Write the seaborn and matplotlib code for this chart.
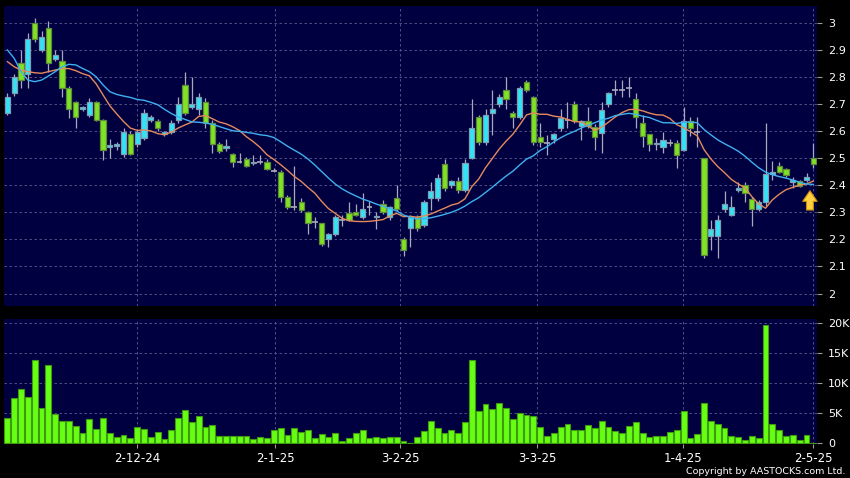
import numpy as np
import pandas as pd
import seaborn as sns
from matplotlib import pyplot as plt

# daily OHLC (one entry per trading day)
opens = [
    2.668, 2.739, 2.850, 2.810, 2.997, 2.899, 2.979, 2.867, 2.858, 2.758,
    2.708, 2.680, 2.659, 2.708, 2.640, 2.540, 2.545, 2.516, 2.589, 2.552,
    2.574, 2.640, 2.638, 2.588, 2.597, 2.640, 2.770, 2.687, 2.680, 2.708,
    2.628, 2.551, 2.538, 2.515, 2.484, 2.497, 2.482, 2.485, 2.487, 2.454,
    2.450, 2.358, 2.318, 2.339, 2.300, 2.263, 2.259, 2.200, 2.218, 2.272,
    2.296, 2.300, 2.281, 2.318, 2.281, 2.329, 2.284, 2.352, 2.200, 2.241,
    2.281, 2.253, 2.352, 2.352, 2.478, 2.401, 2.415, 2.382, 2.499, 2.650,
    2.558, 2.667, 2.698, 2.751, 2.667, 2.650, 2.780, 2.727, 2.579, 2.557,
    2.569, 2.610, 2.640, 2.698, 2.618, 2.638, 2.616, 2.593, 2.699, 2.751,
    2.751, 2.758, 2.717, 2.628, 2.588, 2.553, 2.542, 2.555, 2.557, 2.530,
    2.638, 2.598, 2.500, 2.212, 2.212, 2.311, 2.290, 2.382, 2.401, 2.349,
    2.311, 2.339, 2.441, 2.471, 2.458, 2.410, 2.415, 2.419, 2.500,
]
highs = [
    2.740, 2.810, 2.900, 2.960, 3.016, 2.970, 3.005, 2.899, 2.900, 2.765,
    2.712, 2.692, 2.722, 2.712, 2.645, 2.570, 2.560, 2.610, 2.600, 2.605,
    2.680, 2.660, 2.645, 2.600, 2.640, 2.727, 2.819, 2.798, 2.740, 2.720,
    2.640, 2.560, 2.572, 2.520, 2.518, 2.503, 2.511, 2.512, 2.495, 2.462,
    2.455, 2.362, 2.472, 2.352, 2.305, 2.284, 2.262, 2.225, 2.290, 2.290,
    2.339, 2.330, 2.370, 2.343, 2.300, 2.345, 2.325, 2.400, 2.210, 2.290,
    2.290, 2.345, 2.410, 2.440, 2.495, 2.420, 2.430, 2.495, 2.717, 2.660,
    2.680, 2.751, 2.735, 2.798, 2.675, 2.765, 2.790, 2.730, 2.628, 2.585,
    2.592, 2.680, 2.708, 2.710, 2.640, 2.690, 2.625, 2.708, 2.745, 2.788,
    2.790, 2.800, 2.739, 2.659, 2.579, 2.575, 2.597, 2.570, 2.565, 2.690,
    2.650, 2.653, 2.500, 2.271, 2.290, 2.380, 2.360, 2.413, 2.413, 2.355,
    2.345, 2.628, 2.490, 2.487, 2.465, 2.431, 2.420, 2.444, 2.555,
]
lows = [
    2.659, 2.730, 2.758, 2.758, 2.930, 2.890, 2.819, 2.858, 2.727, 2.647,
    2.611, 2.672, 2.652, 2.636, 2.493, 2.500, 2.530, 2.505, 2.510, 2.540,
    2.565, 2.632, 2.600, 2.580, 2.590, 2.630, 2.660, 2.680, 2.660, 2.610,
    2.520, 2.520, 2.525, 2.468, 2.481, 2.466, 2.475, 2.478, 2.455, 2.448,
    2.339, 2.312, 2.310, 2.300, 2.220, 2.241, 2.175, 2.172, 2.212, 2.250,
    2.266, 2.285, 2.275, 2.290, 2.240, 2.295, 2.270, 2.305, 2.140, 2.171,
    2.230, 2.245, 2.310, 2.340, 2.380, 2.390, 2.370, 2.375, 2.495, 2.550,
    2.550, 2.585, 2.690, 2.680, 2.610, 2.645, 2.745, 2.550, 2.542, 2.511,
    2.555, 2.600, 2.612, 2.630, 2.567, 2.612, 2.530, 2.518, 2.690, 2.733,
    2.727, 2.725, 2.610, 2.542, 2.527, 2.530, 2.518, 2.545, 2.463, 2.525,
    2.580, 2.542, 2.130, 2.160, 2.130, 2.300, 2.285, 2.375, 2.339, 2.250,
    2.305, 2.325, 2.419, 2.445, 2.430, 2.389, 2.395, 2.410, 2.462,
]
closes = [
    2.727, 2.798, 2.788, 2.938, 2.938, 2.948, 2.850, 2.879, 2.758, 2.680,
    2.651, 2.687, 2.708, 2.640, 2.530, 2.548, 2.552, 2.596, 2.516, 2.596,
    2.666, 2.650, 2.610, 2.597, 2.628, 2.698, 2.667, 2.698, 2.727, 2.628,
    2.551, 2.527, 2.545, 2.487, 2.486, 2.471, 2.486, 2.485, 2.459, 2.454,
    2.358, 2.318, 2.318, 2.308, 2.259, 2.263, 2.182, 2.218, 2.281, 2.272,
    2.272, 2.290, 2.311, 2.318, 2.287, 2.300, 2.318, 2.311, 2.161, 2.281,
    2.241, 2.339, 2.380, 2.428, 2.391, 2.415, 2.382, 2.481, 2.610, 2.558,
    2.659, 2.681, 2.727, 2.718, 2.650, 2.758, 2.751, 2.558, 2.558, 2.557,
    2.589, 2.649, 2.640, 2.638, 2.636, 2.618, 2.579, 2.678, 2.741, 2.751,
    2.751, 2.758, 2.650, 2.582, 2.552, 2.557, 2.567, 2.555, 2.511, 2.638,
    2.610, 2.598, 2.142, 2.240, 2.271, 2.329, 2.318, 2.388, 2.370, 2.311,
    2.339, 2.441, 2.450, 2.450, 2.437, 2.419, 2.398, 2.429, 2.478,
]
# volume in thousands of shares
volume_k = [
    4.2, 7.5, 9.0, 7.8, 13.9, 5.9, 13.1, 4.9, 3.8, 3.7,
    2.9, 1.7, 4.1, 2.4, 4.2, 1.7, 1.1, 1.4, 0.9, 2.7,
    2.4, 1.1, 1.9, 0.7, 2.3, 4.2, 5.6, 3.6, 4.6, 2.7,
    3.0, 1.3, 1.2, 1.2, 1.3, 1.3, 0.8, 1.1, 0.9, 2.2,
    2.5, 1.4, 2.5, 1.9, 2.2, 0.9, 1.6, 1.1, 1.8, 0.4,
    0.9, 1.8, 2.2, 0.9, 1.0, 0.9, 1.1, 1.1, 0.4, 0.15,
    1.0, 2.1, 3.7, 2.5, 1.8, 2.2, 1.8, 3.6, 13.9, 5.4,
    6.6, 5.8, 6.7, 5.9, 4.1, 5.0, 4.8, 4.6, 2.8, 1.2,
    1.7, 2.7, 3.3, 2.3, 2.3, 3.1, 2.6, 3.7, 2.7, 2.1,
    1.7, 2.9, 3.6, 1.7, 1.1, 1.2, 1.2, 1.9, 2.2, 5.4,
    0.9, 1.6, 6.7, 3.8, 3.3, 2.6, 1.3, 1.0, 0.6, 1.3,
    0.9, 19.7, 3.2, 2.2, 1.3, 1.4, 0.5, 1.4, 0.0,
]
# moving averages before enough days are on screen
ma10_head = [2.856, 2.837, 2.825, 2.819, 2.815, 2.813, 2.819, 2.825, 2.831]
ma20_head = [2.899, 2.868, 2.819, 2.788, 2.782, 2.788, 2.803, 2.819, 2.837, 2.846,
             2.844, 2.831, 2.819, 2.800, 2.770, 2.745, 2.735, 2.729, 2.724]

date_labels = ['2-12-24', '2-1-25', '3-2-25', '3-3-25', '1-4-25', '2-5-25']
date_pos = [19, 39.2, 57.5, 77.6, 98.9, 118]
price_ticks = [2.0, 2.1, 2.2, 2.3, 2.4, 2.5, 2.6, 2.7, 2.8, 2.9, 3.0]
vol_ticks = [0, 5, 10, 15, 20]

BG = '#000040'
GRID = '#5c5c8e'
GREEN, GREEN_EDGE = '#80e224', '#5f8a3a'
CYAN, CYAN_EDGE = '#33e3f5', '#7f9cb0'
WICK = '#a9a9bb'
VOL, VOL_EDGE = '#66ff14', '#3f9a10'

n = len(closes)
idx = np.arange(n)
df = pd.DataFrame({'idx': idx, 'open': opens, 'high': highs, 'low': lows,
                   'close': closes, 'volume': volume_k})

ma10 = df['close'].rolling(10).mean().to_numpy()
ma10[:len(ma10_head)] = ma10_head
ma20 = df['close'].rolling(20).mean().to_numpy()
ma20[:len(ma20_head)] = ma20_head

fig = plt.figure(figsize=(8.5, 4.78), dpi=100, facecolor='black')
ax = fig.add_axes([0.0047, 0.3598, 0.957, 0.628], facecolor=BG)
axv = fig.add_axes([0.0047, 0.0711, 0.957, 0.2615], facecolor=BG)

# candles
body = (df['close'] - df['open']).abs()
doji = body < 0.0035
up = (df['close'] > df['open']) & ~doji
down = (df['close'] < df['open']) & ~doji
ax.vlines(df['idx'], df['low'], df['high'], color=WICK, lw=0.9, zorder=2)
for mask, fill, edge in [(up, CYAN, CYAN_EDGE), (down, GREEN, GREEN_EDGE)]:
    sub = df[mask]
    ax.bar(sub['idx'], (sub['close'] - sub['open']).abs(),
           bottom=sub[['open', 'close']].min(axis=1), width=0.76,
           color=fill, edgecolor=edge, linewidth=0.9, zorder=3)
d = df[doji]
ax.hlines(d['close'], d['idx'] - 0.42, d['idx'] + 0.42, color=WICK, lw=1.2, zorder=3)

sns.lineplot(x=idx, y=ma10, ax=ax, color='#e58a5c', linewidth=1.0, zorder=4)
sns.lineplot(x=idx, y=ma20, ax=ax, color='#3fb0f0', linewidth=1.0, zorder=4)

ax.annotate('', xy=(117.5, 2.390), xytext=(117.5, 2.298),
            arrowprops=dict(arrowstyle='simple,head_width=0.95,head_length=0.7,tail_width=0.45',
                            mutation_scale=11, fc='#ffd040', ec='#c88a10', lw=0.8),
            zorder=5)

# volume
sns.barplot(data=df, x='idx', y='volume', ax=axv, color=VOL, saturation=1,
            width=0.86, edgecolor=VOL_EDGE, linewidth=0.8, errorbar=None)

for a in (ax, axv):
    a.set_xlim(-0.5, 118.6)
    a.set_xticks(date_pos)
    a.set_axisbelow(True)
    a.grid(True, color=GRID, linestyle=(0, (3, 3)), linewidth=0.6)
    a.yaxis.tick_right()
    a.tick_params(axis='y', colors='white', labelsize=8, length=3.5, pad=4)
    a.tick_params(axis='y', color='#9a9a9a')
    a.set_xlabel('')
    a.set_ylabel('')
    for s in a.spines.values():
        s.set_visible(False)

ax.set_ylim(1.954, 3.062)
ax.set_yticks(price_ticks)
ax.set_yticklabels([f'{v:g}' for v in price_ticks])
ax.tick_params(axis='x', length=0, labelbottom=False)

axv.set_ylim(-0.1, 20.7)
axv.set_yticks(vol_ticks)
axv.set_yticklabels(['0'] + [f'{v}K' for v in vol_ticks[1:]])
axv.set_xticklabels(date_labels)
axv.tick_params(axis='x', colors='white', labelsize=8.5, length=3, pad=2.5)
axv.tick_params(axis='x', color='#9a9a9a')

fig.text(0.994, 0.0146, 'Copyright by AASTOCKS.com Ltd.', color='white',
         fontsize=6.8, ha='right', va='center')

plt.savefig('out.png', dpi=100, facecolor='black')
